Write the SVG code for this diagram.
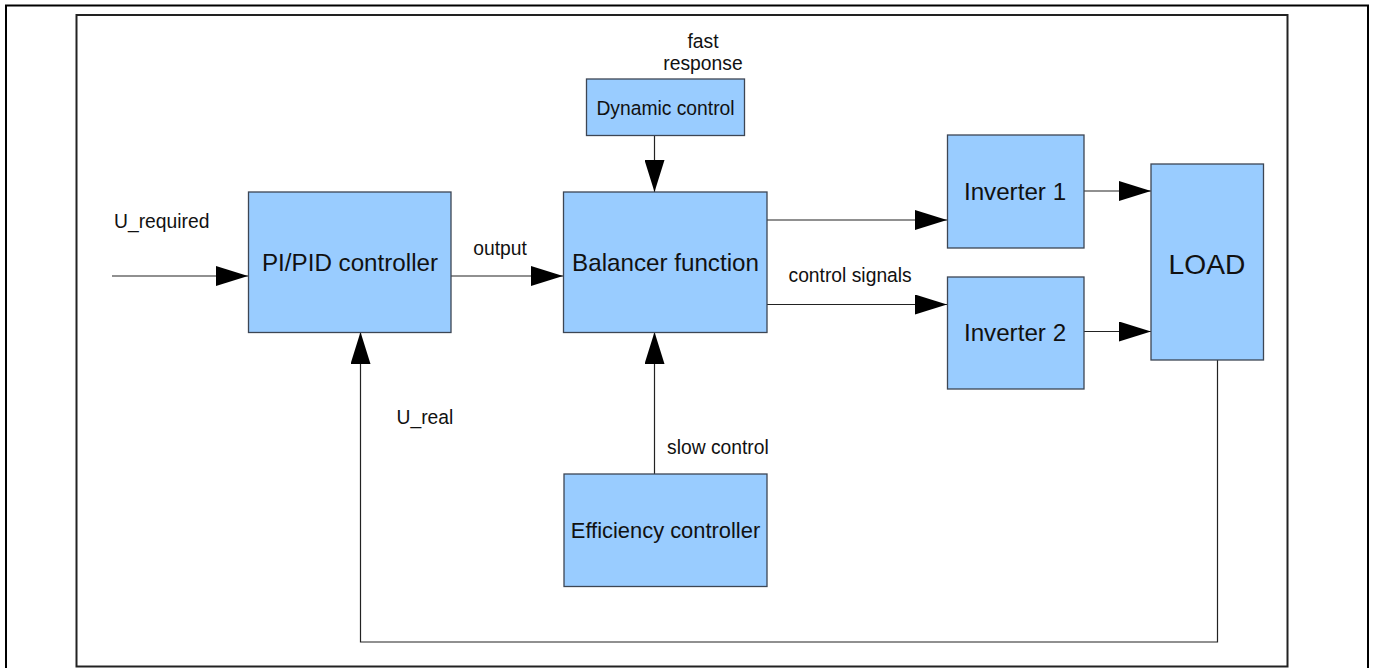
<svg xmlns="http://www.w3.org/2000/svg" width="1375" height="668" viewBox="0 0 1375 668">
  <defs>
    <marker id="arr" markerUnits="userSpaceOnUse" markerWidth="32" markerHeight="20" refX="32" refY="10" orient="auto">
      <path d="M0,0 L32,10 L0,20 Z" fill="#000"/>
    </marker>
    <style>
      .box { fill: #99ccff; stroke: #3d4654; stroke-width: 1.3; }
      .line { fill: none; stroke: #222; stroke-width: 1.2; }
      .big { font-family: "Liberation Sans", Arial, sans-serif; font-size: 24.2px; fill: #111; text-anchor: middle; }
      .lbl { font-family: "Liberation Sans", Arial, sans-serif; font-size: 19.3px; fill: #111; }
      .frame { fill: none; stroke: #000; stroke-width: 2; }
    </style>
  </defs>
  <rect width="1375" height="668" fill="#fff"/>
  <!-- frames -->
  <path class="frame" d="M6,670 L6,5.5 L1368,5.5 L1368,670"/>
  <rect x="76.5" y="15" width="1211" height="651.5" fill="none" stroke="#222" stroke-width="2"/>

  <g id="connectors">
    <line class="line" x1="112" y1="276" x2="248" y2="276" marker-end="url(#arr)"/>
    <line class="line" x1="451" y1="276" x2="563" y2="276" marker-end="url(#arr)"/>
    <line class="line" x1="654.5" y1="135" x2="654.5" y2="192" marker-end="url(#arr)"/>
    <line class="line" x1="767" y1="220" x2="947" y2="220" marker-end="url(#arr)"/>
    <line class="line" x1="767" y1="304.5" x2="947" y2="304.5" marker-end="url(#arr)"/>
    <line class="line" x1="1084" y1="191" x2="1151" y2="191" marker-end="url(#arr)"/>
    <line class="line" x1="1084" y1="331.5" x2="1151" y2="331.5" marker-end="url(#arr)"/>
    <line class="line" x1="654.5" y1="474" x2="654.5" y2="332" marker-end="url(#arr)"/>
    <polyline class="line" points="1217.5,360 1217.5,642 360.5,642 360.5,332" marker-end="url(#arr)"/>
  </g>

  <g id="labels">
    <text class="lbl" x="114" y="228">U_required</text>
    <text class="lbl" x="500" y="255" text-anchor="middle">output</text>
    <text class="lbl" x="703" y="48" text-anchor="middle">fast</text>
    <text class="lbl" x="703" y="69.5" text-anchor="middle">response</text>
    <text class="lbl" x="788.5" y="282">control signals</text>
    <text class="lbl" x="396.5" y="423.5">U_real</text>
    <text class="lbl" x="667" y="454">slow control</text>
  </g>

  <g id="pid">
    <rect class="box" x="248.5" y="192" width="202.5" height="140.5"/>
    <text class="big" x="350" y="271">PI/PID controller</text>
  </g>
  <g id="balancer">
    <rect class="box" x="563.5" y="192" width="203.5" height="140.5"/>
    <text class="big" x="665.5" y="271">Balancer function</text>
  </g>
  <g id="dynamic">
    <rect class="box" x="586.5" y="79" width="158" height="56.5"/>
    <text class="lbl" x="665.5" y="114.5" text-anchor="middle">Dynamic control</text>
  </g>
  <g id="efficiency">
    <rect class="box" x="564" y="474" width="203" height="112.5"/>
    <text class="big" x="665.5" y="538" style="font-size:21.9px">Efficiency controller</text>
  </g>
  <g id="inverter1">
    <rect class="box" x="947.5" y="135" width="136.5" height="113"/>
    <text class="big" x="1015" y="200">Inverter 1</text>
  </g>
  <g id="inverter2">
    <rect class="box" x="947.5" y="277" width="136.5" height="112"/>
    <text class="big" x="1015" y="341">Inverter 2</text>
  </g>
  <g id="load">
    <rect class="box" x="1151" y="164" width="112.5" height="196"/>
    <text class="big" x="1207" y="273.5" style="font-size:28.2px">LOAD</text>
  </g>
</svg>
